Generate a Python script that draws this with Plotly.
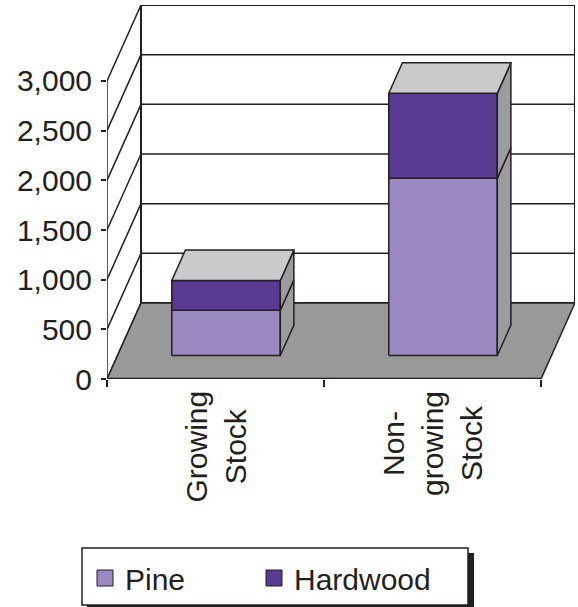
import plotly.graph_objects as go

# ---- data ----
categories = ["Growing<br>Stock", "Non-<br>growing<br>Stock"]
series_names = ["Pine", "Hardwood"]
pine = [455, 1785]
hardwood = [300, 855]
y_ticks = [0, 500, 1000, 1500, 2000, 2500, 3000]
y_tick_text = ["0", "500", "1,000", "1,500", "2,000", "2,500", "3,000"]
y_max = 3000

# ---- style ----
PINE_COLOR = "#9b89c2"
HARD_COLOR = "#5b3a93"
TOP_COLOR = "#c9cacc"
SIDE_COLOR = "#9b9c9e"
FLOOR_COLOR = "#999999"
LINE = "#231f20"
FONT = "Liberation Sans, Arial, sans-serif"

W, H = 578, 607
L, R, T, B = 107, 3, 5, 228
PW, PH = W - L - R, H - T - B

DX = 0.1567   # depth offset in category units
DY = 765      # depth offset in value units
D0, D1 = 0.31, 0.71
HALF = 0.25
n = len(categories)
values = [pine, hardwood]
colors = [PINE_COLOR, HARD_COLOR]

fig = go.Figure()


def P(x, y, d):
    return x + d * DX, y + d * DY


def add_poly(points, fill, width=1.5):
    xs = [p[0] for p in points] + [points[0][0]]
    ys = [p[1] for p in points] + [points[0][1]]
    fig.add_trace(go.Scatter(x=xs, y=ys, mode="lines", fill="toself",
                             fillcolor=fill, line=dict(color=LINE, width=width),
                             hoverinfo="skip", showlegend=False))


def add_line(points, width=1.5):
    fig.add_trace(go.Scatter(x=[p[0] for p in points], y=[p[1] for p in points],
                             mode="lines", line=dict(color=LINE, width=width),
                             hoverinfo="skip", showlegend=False))


# back wall
add_poly([P(0, 0, 1), P(n, 0, 1), P(n, y_max, 1), P(0, y_max, 1)], "white", 2)
for v in y_ticks[1:-1]:
    add_line([P(0, v, 1), P(n, v, 1)], 1.5)
# side wall lines
for v in y_ticks:
    add_line([P(0, v, 0), P(0, v, 1)], 1.5)
# floor
add_poly([P(0, 0, 0), P(n, 0, 0), P(n, 0, 1), P(0, 0, 1)], FLOOR_COLOR, 1.5)
add_line([P(0, 0, 0), P(n, 0, 0)], 2.5)
# value axis line
add_line([P(0, 0, 0), P(0, y_max, 0)], 1.5)

# bars
for i in range(n):
    x0, x1 = i + 0.5 - HALF, i + 0.5 + HALF
    base = 0
    for s in range(len(values)):
        lo, hi = base, base + values[s][i]
        add_poly([P(x0, lo, D0), P(x1, lo, D0), P(x1, hi, D0), P(x0, hi, D0)], colors[s])
        add_poly([P(x1, lo, D0), P(x1, lo, D1), P(x1, hi, D1), P(x1, hi, D0)], SIDE_COLOR)
        base = hi
    add_poly([P(x0, base, D0), P(x1, base, D0), P(x1, base, D1), P(x0, base, D1)], TOP_COLOR)


def px_x(p):
    return (p - L) / PW


def px_y(p):
    return (H - B - p) / PH


# legend entries (one legend per entry for exact placement)
legend_ids = ["legend", "legend2"]
legend_px = [85, 254]
for name, c, lg in zip(series_names, colors, legend_ids):
    fig.add_trace(go.Scatter(x=[None], y=[None], mode="markers", name=name, legend=lg,
                             marker=dict(symbol="square", size=16, color=c,
                                         line=dict(color=LINE, width=1))))

# category labels
for i, cat in enumerate(categories):
    fig.add_annotation(x=i + 0.5, y=0, xref="x", yref="y", text=cat, textangle=-90,
                       showarrow=False, xanchor="center", yanchor="top", yshift=-10,
                       align="center", font=dict(size=30, color=LINE, family=FONT))

# legend frame with shadow
fig.add_shape(type="rect", xref="paper", yref="paper", x0=px_x(87), x1=px_x(474),
              y0=px_y(612), y1=px_y(553), fillcolor=LINE, line=dict(width=0), layer="below")
fig.add_shape(type="rect", xref="paper", yref="paper", x0=px_x(82), x1=px_x(468),
              y0=px_y(605), y1=px_y(548), fillcolor="white",
              line=dict(color=LINE, width=1.5), layer="below")

leg_common = dict(orientation="h", xanchor="left", yanchor="top",
                  bgcolor="rgba(0,0,0,0)", borderwidth=0, itemsizing="trace",
                  font=dict(size=30, color=LINE, family=FONT))

fig.update_layout(
    width=W, height=H,
    margin=dict(l=L, r=R, t=T, b=B, autoexpand=False),
    paper_bgcolor="white", plot_bgcolor="white",
    font=dict(family=FONT, size=30, color=LINE),
    showlegend=True,
    legend=dict(x=px_x(legend_px[0]), y=px_y(552), **leg_common),
    legend2=dict(x=px_x(legend_px[1]), y=px_y(552), **leg_common),
    xaxis=dict(range=[0, n + DX], showgrid=False, zeroline=False, showline=False,
               tickvals=[0, 1, 2], ticks="outside", ticklen=7, tickwidth=1.5,
               tickcolor=LINE, showticklabels=False, fixedrange=True, automargin=False),
    yaxis=dict(range=[0, y_max + DY], showgrid=False, zeroline=False, showline=False,
               tickvals=y_ticks, ticktext=y_tick_text, ticks="outside", ticklen=5,
               tickwidth=1.5, tickcolor=LINE, ticklabelstandoff=3,
               tickfont=dict(size=30, color=LINE, family=FONT),
               fixedrange=True, automargin=False),
)

fig.write_html("out.html")
